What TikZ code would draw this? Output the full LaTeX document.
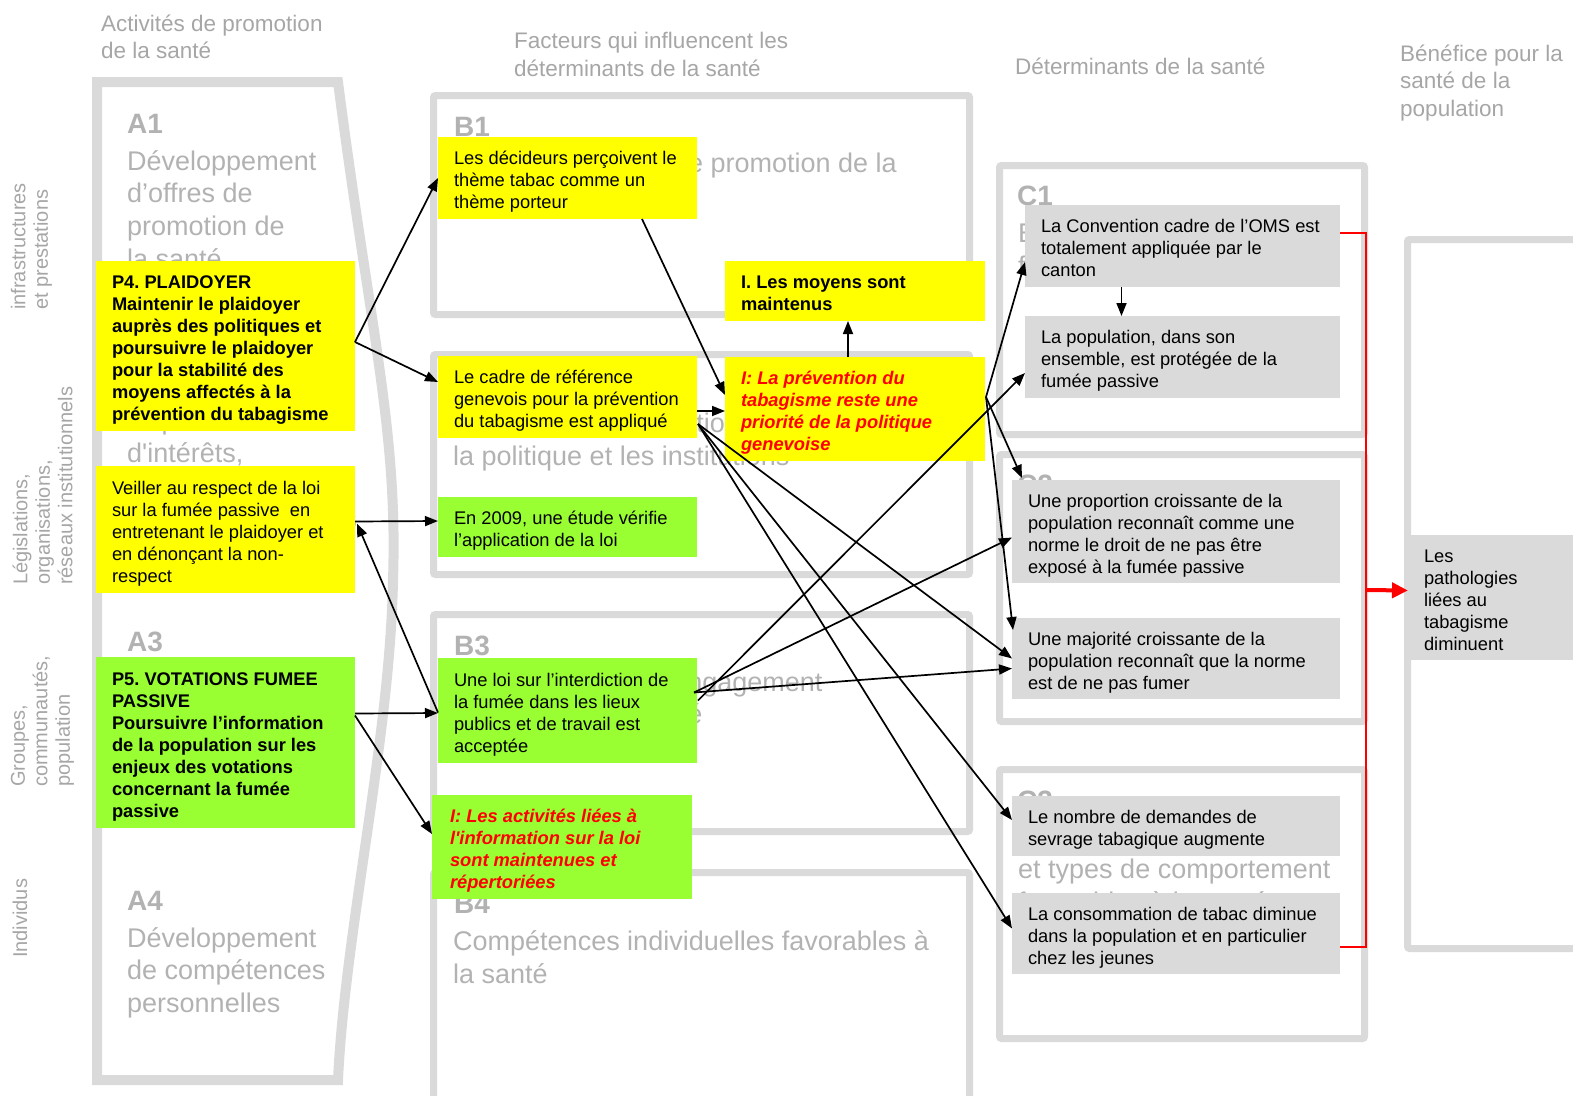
\documentclass[tikz,border=0pt]{standalone}
\usepackage{fontspec}
\setmainfont{Liberation Sans}
\usetikzlibrary{arrows.meta,calc}
\frenchspacing
\definecolor{bordergray}{RGB}{218,218,218}
\definecolor{boxgray}{RGB}{218,218,218}
\definecolor{bgtext}{RGB}{178,178,178}
\definecolor{headtext}{RGB}{166,166,166}
\definecolor{ygreen}{RGB}{153,255,51}
\definecolor{yel}{RGB}{255,255,0}
\newcommand{\fBody}{\fontsize{18.3}{22}\selectfont}
\newcommand{\fBg}{\fontsize{27}{33}\selectfont}
\newcommand{\fLab}{\fontsize{28}{33}\selectfont\bfseries}
\newcommand{\fHead}{\fontsize{22.5}{28}\selectfont}
\newcommand{\fSide}{\fontsize{20}{22.5}\selectfont}
\newcommand{\boxtxt}[2]{\raisebox{-4.5pt}[\height][\depth]{\makebox[#1][l]{\begin{tabular}{@{}l@{}}#2\end{tabular}}}}
\begin{document}
\begin{tikzpicture}[x=1pt,y=-1pt,
  grayframe/.style={draw=bordergray, line width=7pt, rounded corners=2pt},
  cbox/.style={inner xsep=16pt, inner ysep=0pt, font=\fBody, anchor=center, outer sep=0pt},
  ybox/.style={cbox, fill=yel},
  gbox/.style={cbox, fill=ygreen},
  sbox/.style={cbox, fill=boxgray},
  boldtxt/.style={font={\fBody\bfseries}},
  redtxt/.style={font={\fBody\bfseries\itshape}, text=red},
  bgt/.style={font=\fBg, text=bgtext, inner sep=0pt, anchor=base west},
  lab/.style={font=\fLab, text=bgtext, inner sep=0pt, anchor=base west},
  head/.style={font=\fHead, text=headtext, inner sep=0pt, anchor=base west},
  side/.style={font=\fSide, text=headtext, inner sep=0pt, align=left, rotate=90, anchor=west},
  arr/.style={-{Triangle[length=13pt,width=10pt]}, line width=1.7pt},
  redl/.style={draw=red, line width=2pt},
  redarr/.style={-{Triangle[length=16pt,width=15pt]}, draw=red, fill=red, line width=4pt},
]
\useasboundingbox (0,0) rectangle (1573,1095);

% ---- frames ----
\draw[grayframe] (433.5,95.5) rectangle (969.5,314.5);
\draw[grayframe] (433.5,354.5) rectangle (969.5,574.5);
\draw[grayframe] (433.5,614.5) rectangle (969.5,831.5);
\draw[grayframe] (433.5,872.5) rectangle (969.5,1130);
\draw[grayframe] (999.5,165.5) rectangle (1364.5,434.5);
\draw[grayframe] (999.5,454.5) rectangle (1364.5,721.5);
\draw[grayframe] (999.5,769.5) rectangle (1364.5,1038.5);
\draw[grayframe] (1407.5,239.5) rectangle (1620,948.5);
\draw[draw=bordergray, line width=10pt, line join=miter]
  (97,82) -- (338,82) .. controls (370,330) and (398,430) .. (393,580)
  .. controls (390,740) and (345,930) .. (338,1080) -- (97,1080) -- cycle;

% ---- background texts ----
\node[lab] (a1) at (127,133) {A1};
\node[bgt] (a1a) at (127,170) {Développement};
\node[bgt] (a1b) at (127,202) {d’offres de};
\node[bgt] (a1c) at (127,235) {promotion de};
\node[bgt] (a1d) at (127,268) {la santé};
\node[lab] (a2) at (127,392) {A2};
\node[bgt] (a2a) at (127,429) {Représentation};
\node[bgt] (a2b) at (127,462) {d\textquotesingle intérêts,};
\node[bgt] (a2c) at (127,495) {collaboration};
\node[bgt] (a2d) at (127,528) {entre organisations};
\node[lab] (a3) at (127,651) {A3};
\node[bgt] (a3a) at (127,688) {Mobilisation};
\node[bgt] (a3b) at (127,721) {sociale};
\node[lab] (a4) at (127,910) {A4};
\node[bgt] (a4a) at (127,947) {Développement};
\node[bgt] (a4b) at (127,979) {de compétences};
\node[bgt] (a4c) at (127,1012) {personnelles};

\node[lab] (b1) at (454,136) {B1};
\node[bgt, anchor=base east] (b1a) at (897,172) {Offres en matière de promotion de la};
\node[bgt] (b1b) at (453,205) {santé};
\node[lab] (b2) at (454,396) {B2};
\node[bgt] (b2a) at (453,432) {Stratégies de promotion de la santé dans};
\node[bgt] (b2b) at (453,465) {la politique et les institutions};
\node[lab] (b3) at (454,655) {B3};
\node[bgt] (b3a) at (453,691) {Potentiel social et engagement};
\node[bgt] (b3b) at (453,723) {favorables à la santé};
\node[lab] (b4) at (454,913) {B4};
\node[bgt] (b4a) at (453,950) {Compétences individuelles favorables à};
\node[bgt] (b4b) at (453,983) {la santé};

\node[lab] (c1) at (1017,205) {C1};
\node[bgt] (c1a) at (1018,242) {Environnement physique};
\node[bgt] (c1b) at (1018,275) {favorable à la santé};
\node[lab] (c2) at (1017,494) {C2};
\node[bgt] (c2a) at (1018,531) {Environnement social};
\node[bgt] (c2b) at (1018,564) {favorable à la santé};
\node[lab] (c3) at (1017,810) {C3};
\node[bgt] (c3a) at (1018,845) {Ressources personnelles};
\node[bgt] (c3b) at (1018,878) {et types de comportement};
\node[bgt] (c3c) at (1018,911) {favorables à la santé};

% ---- headings ----
\node[head] (h1a) at (101,31) {Activités de promotion};
\node[head] (h1b) at (101,58) {de la santé};
\node[head] (h2a) at (514,48) {Facteurs qui influencent les};
\node[head] (h2b) at (514,76) {déterminants de la santé};
\node[head] (h3) at (1015,74) {Déterminants de la santé};
\node[head] (h4a) at (1400,61) {Bénéfice pour la};
\node[head] (h4b) at (1400,88) {santé de la};
\node[head] (h4c) at (1400,116) {population};

% ---- side labels ----
\node[side] (s1) at (31.5,310) {infrastructures\\et prestations};
\node[side] (s2) at (42.5,585) {Législations,\\organisations,\\réseaux institutionnels};
\node[side] (s3) at (42.5,787) {Groupes,\\communautés,\\population};
\node[side] (s4) at (20,958) {Individus};

% ---- coloured boxes ----
\node[ybox, boldtxt, minimum height=170pt] (p4) at (225.5,346)
  {\boxtxt{227pt}{P4. PLAIDOYER\\Maintenir le plaidoyer\\auprès des politiques et\\poursuivre le plaidoyer\\pour la stabilité des\\moyens affectés à la\\prévention du tabagisme}};
\node[ybox, minimum height=127pt] (veil) at (225.5,529.5)
  {\boxtxt{227pt}{Veiller au respect de la loi\\sur la fumée passive\ \ en\\entretenant le plaidoyer et\\en dénonçant la non-\\respect}};
\node[gbox, boldtxt, minimum height=171pt] (p5) at (225.5,742.5)
  {\boxtxt{227pt}{P5. VOTATIONS FUMEE\\PASSIVE\\Poursuivre l’information\\de la population sur les\\enjeux des votations\\concernant la fumée\\passive}};
\node[ybox, minimum height=82pt] (dec) at (567.5,178)
  {\boxtxt{227pt}{Les décideurs perçoivent le\\thème tabac comme un\\thème porteur}};
\node[ybox, minimum height=82pt] (cadre) at (567.5,397)
  {\boxtxt{227pt}{Le cadre de référence\\genevois pour la prévention\\du tabagisme est appliqué}};
\node[gbox, minimum height=60pt] (en) at (567.5,527)
  {\boxtxt{227pt}{En 2009, une étude vérifie\\l’application de la loi}};
\node[gbox, minimum height=105pt] (loi) at (567.5,710.5)
  {\boxtxt{227pt}{Une loi sur l’interdiction de\\la fumée dans les lieux\\publics et de travail est\\acceptée}};
\node[gbox, redtxt, minimum height=104pt, inner xsep=18pt] (act) at (562,847)
  {\boxtxt{224pt}{I: Les activités liées à\\l\textquotesingle information sur la loi\\sont maintenues et\\répertoriées}};
\node[ybox, boldtxt, minimum height=60pt] (moy) at (855,291)
  {\boxtxt{228pt}{I. Les moyens sont\\maintenus}};
\node[ybox, redtxt, minimum height=104pt] (prev) at (855,409)
  {\boxtxt{228pt}{I: La prévention du\\tabagisme reste une\\priorité de la politique\\genevoise}};
\node[sbox, minimum height=82pt] (conv) at (1182.5,246)
  {\boxtxt{283pt}{La Convention cadre de l’OMS est\\totalement appliquée par le\\canton}};
\node[sbox, minimum height=82pt] (pop) at (1182.5,357)
  {\boxtxt{283pt}{La population, dans son\\ensemble, est protégée de la\\fumée passive}};
\node[sbox, minimum height=103pt] (prop) at (1176,531.5)
  {\boxtxt{296pt}{Une proportion croissante de la\\population reconnaît comme une\\norme le droit de ne pas être\\exposé à la fumée passive}};
\node[sbox, minimum height=81pt] (maj) at (1176,658.5)
  {\boxtxt{296pt}{Une majorité croissante de la\\population reconnaît que la norme\\est de ne pas fumer}};
\node[sbox, minimum height=60pt] (nom) at (1176,826)
  {\boxtxt{296pt}{Le nombre de demandes de\\sevrage tabagique augmente}};
\node[sbox, minimum height=81pt] (conso) at (1176,933.5)
  {\boxtxt{296pt}{La consommation de tabac diminue\\dans la population et en particulier\\chez les jeunes}};
\node[sbox, minimum height=125pt] (patho) at (1499,597.5)
  {\boxtxt{150pt}{Les\\pathologies\\liées au\\tabagisme\\diminuent}};

% ---- arrows ----
\draw[arr] ($(p4.east)+(0,-4)$) -- (dec.west);
\draw[arr] ($(p4.east)+(0,-4)$) -- ($(cadre.west)+(0,-15)$);
\draw[arr] ($(veil.east)+(0,-8)$) -- ($(en.west)+(0,-6)$);
\draw[arr] ($(loi.west)+(0,2)$) -- ($(veil.east)+(2,-6)$);
\draw[arr] ($(p5.east)+(0,-29)$) -- ($(loi.west)+(0,2.5)$);
\draw[arr] ($(p5.east)+(0,-27)$) -- ($(act.west)+(0,-13)$);
\draw[arr] ($(dec.south east)+(-55,0)$) -- ($(prev.west)+(0,-14)$);
\draw[arr] ($(cadre.east)+(0,14)$) -- ($(prev.west)+(0,2)$);
\draw[arr] ($(cadre.east)+(1,27)$) -- (maj.west);
\draw[arr] ($(cadre.east)+(1,27)$) -- ($(nom.west)+(0,-6)$);
\draw[arr] ($(cadre.east)+(1,27)$) -- ($(conso.west)+(0,-5)$);
\draw[arr] ($(prev.east)+(1,-12)$) -- ($(conv.west)+(0,16)$);
\draw[arr] ($(prev.east)+(1,-12)$) -- ($(prop.north west)+(10,-2)$);
\draw[arr] ($(prev.east)+(1,-12)$) -- ($(maj.north west)+(1,12)$);
\draw[arr] ($(loi.east)+(-3,-18)$) -- ($(maj.west)+(0,10)$);
\draw[arr] ($(loi.east)+(-3,-18)$) -- ($(prop.west)+(0,6)$);
\draw[arr] ($(loi.east)+(1,-10)$) -- ($(pop.west)+(0,16)$);
\draw[arr] ($(conv.south)+(-61,0)$) -- ($(pop.north)+(-61,0)$);
\draw[arr] ($(prev.north)+(-7,0)$) -- ($(moy.south)+(-7,0)$);

% ---- red bracket ----
\coordinate (rtop) at (1366,233);
\coordinate (rbot) at (1366,947);
\coordinate (rmid) at (1366,590);
\draw[redl] ($(conv.east)+(0,-13)$) -- (rtop) -- (rbot) -- ($(conso.east)+(0,13.5)$);
\draw[redarr] (rmid) -- ($(patho.west)+(0,-7)$);
\end{tikzpicture}
\end{document}
